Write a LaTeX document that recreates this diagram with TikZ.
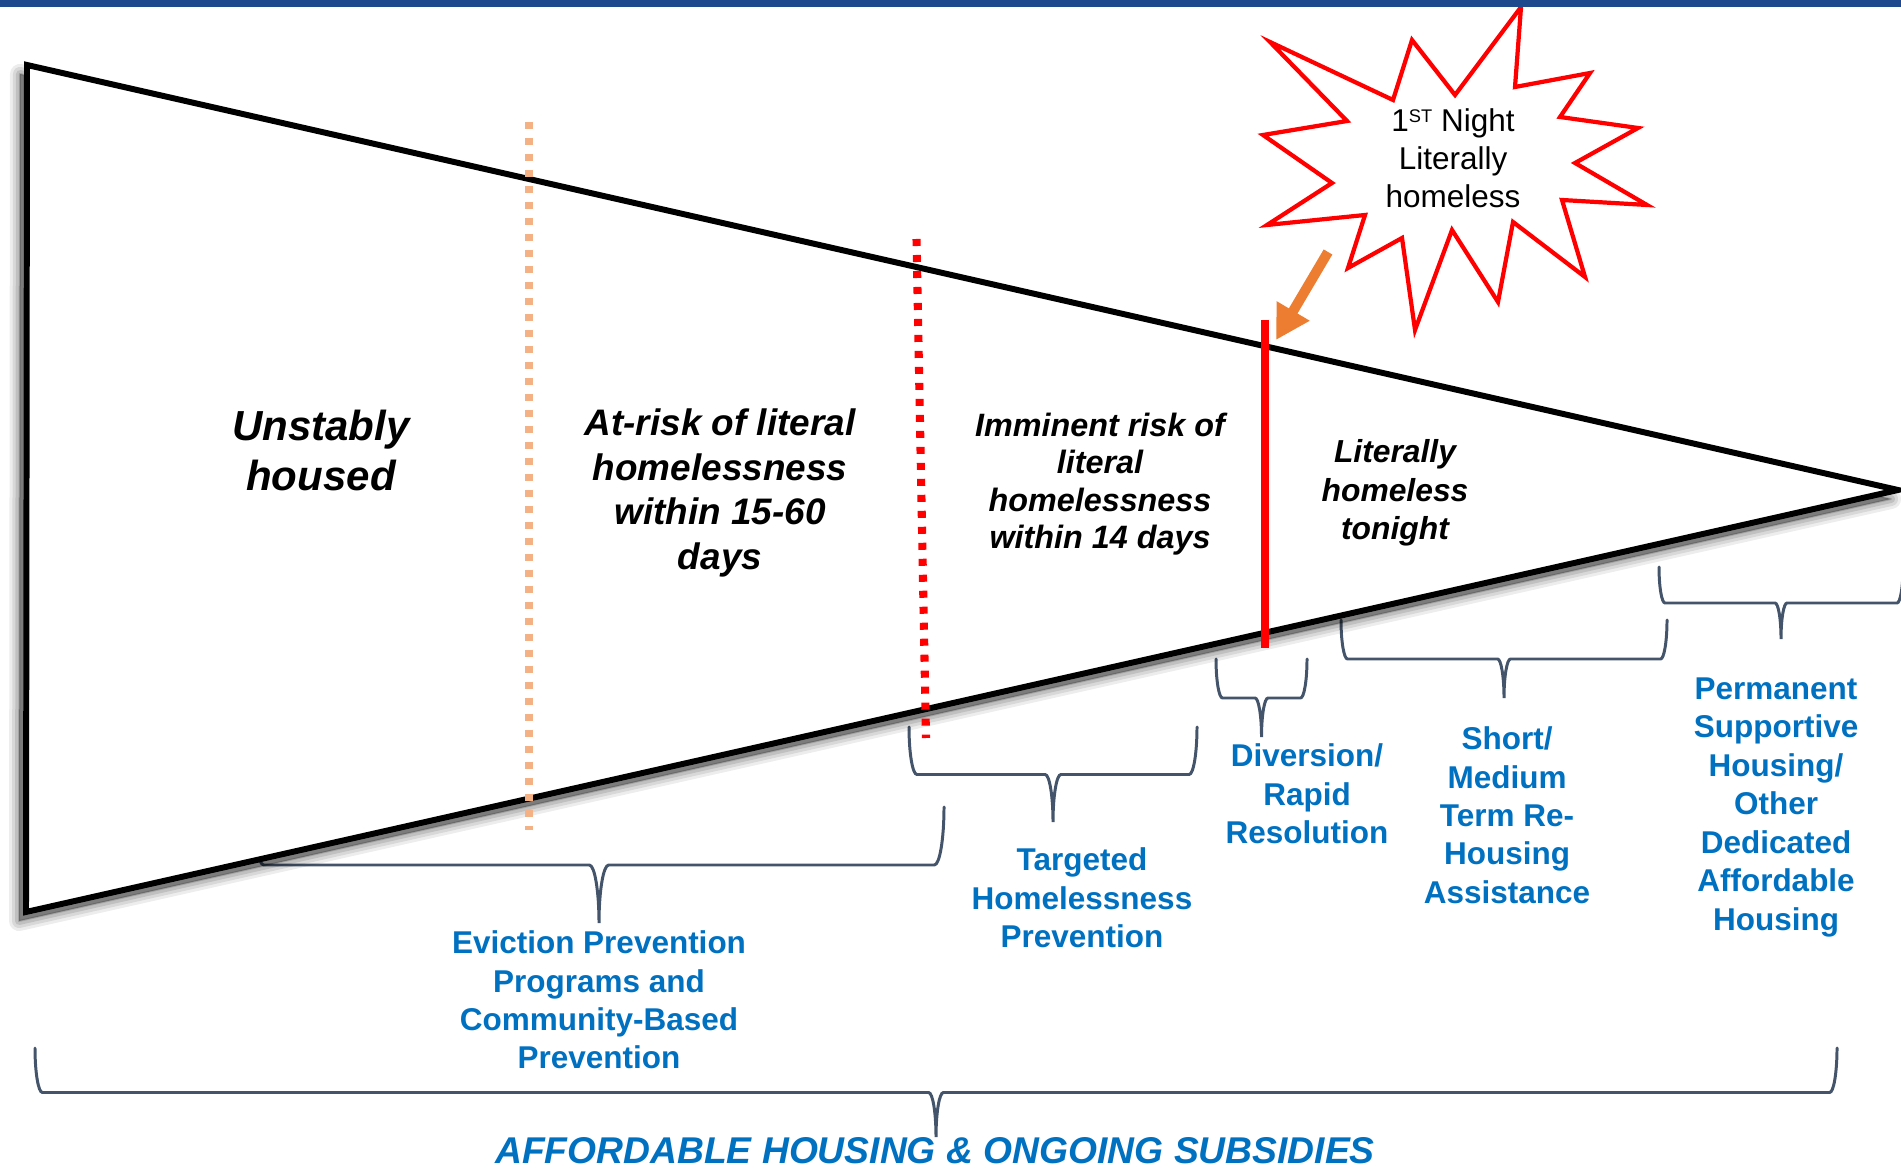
\documentclass[tikz,border=0pt]{standalone}
\usepackage{fontspec}
\setmainfont{Liberation Sans}
\usetikzlibrary{arrows.meta}
\definecolor{barblue}{RGB}{31,73,141}
\definecolor{svcblue}{RGB}{0,112,192}
\definecolor{bracegray}{RGB}{68,84,106}
\definecolor{dotorange}{RGB}{244,177,131}
\definecolor{arroworange}{RGB}{237,125,49}

\newcommand{\curlybrace}[4]{%
  \pgfmathsetmacro{\bmid}{(#1+#2)/2}%
  \pgfmathsetmacro{\bhalf}{#4/2}%
  \pgfmathsetmacro{\bcurl}{0.0833*#4}%
  \draw[brace] (#1,#3) .. controls +(0,0.55*\bhalf) and +(-0.55*\bcurl,0) .. (#1+\bcurl,#3+\bhalf)
    -- (\bmid-\bcurl,#3+\bhalf) .. controls +(0.55*\bcurl,0) and +(0,-0.55*\bhalf) .. (\bmid,#3+#4)
    .. controls +(0,-0.55*\bhalf) and +(-0.55*\bcurl,0) .. (\bmid+\bcurl,#3+\bhalf)
    -- (#2-\bcurl,#3+\bhalf) .. controls +(0.55*\bcurl,0) and +(0,0.55*\bhalf) .. (#2,#3);%
}

\tikzset{
  stage/.style={align=center, anchor=north, inner sep=0pt},
  service/.style={align=center, anchor=north, inner sep=0pt, text=svcblue,
    font=\bfseries\fontsize{8.96}{10.95}\selectfont},
  brace/.style={draw=bracegray, line width=0.85pt, line cap=round},
  burst/.style={draw=red, fill=white, line width=1.2pt},
  pointer/.style={draw=arroworange, line width=2.85pt, -{Triangle[length=9.6pt,width=10.2pt]}},
  cutoff/.style={line width=2.3pt, dash pattern=on 2pt off 2.55pt},
}

\begin{document}
\begin{tikzpicture}[x=0.1mm, y=-0.1mm]
    \useasboundingbox (0,0) rectangle (1901,1169);

    \curlybrace{254}{944}{807}{116}
    \curlybrace{909}{1197}{727}{95}
    \curlybrace{1216}{1307}{659}{78}
    \curlybrace{1341}{1667}{620}{78}
    \curlybrace{1659}{1903}{567}{72}
    \curlybrace{35}{1837}{1048}{89}

    \begin{scope}[shift={(-7,9)}]
        \foreach \w/\o in {20/0.07, 14/0.09, 8/0.11, 2/0.14}
            \filldraw[black, opacity=\o, line width=\w*0.1mm, line join=round] (27,65) -- (1898,490) -- (26,912) -- cycle;
    \end{scope}
    \filldraw[fill=white, draw=black, line width=1.7pt] (27,65) -- (1898,490) -- (26,912) -- cycle;

    \draw[cutoff, dotorange] (529,122) -- (529,830);
    \draw[cutoff, red] (916.5,239) -- (926,738);
    \draw[red, line width=2.2pt] (1265,320) -- (1265,648);

    \draw[burst] (1521,7) -- (1515,87) -- (1590,73) -- (1560,117) -- (1638,128) -- (1575,163)
        -- (1647,205) -- (1562,200) -- (1585,277) -- (1513,222) -- (1498,302) -- (1452,230)
        -- (1415,330) -- (1402,238) -- (1348,268) -- (1365,215) -- (1267,225) -- (1332,183)
        -- (1263,135) -- (1347,121) -- (1270,42) -- (1393,100) -- (1412,40) -- (1455,95) -- cycle;
    \node[stage, font=\fontsize{8.96}{10.8}\selectfont] (night) at (1453,108)
        {1\raisebox{0.29em}{\fontsize{5.2}{6}\selectfont ST} Night\\Literally\\homeless};

    \coordinate (arrowtail) at (1328,252);
    \coordinate (arrowtip) at (1276,340);
    \draw[pointer] (arrowtail) -- (arrowtip);

    \node[stage, font=\bfseries\itshape\fontsize{11.95}{14.2}\selectfont] (unstable) at (321,409) {Unstably\\housed};
    \node[stage, font=\bfseries\itshape\fontsize{10.5}{12.7}\selectfont] (atrisk) at (720,408) {At-risk of literal\\homelessness\\within 15-60\\days};
    \node[stage, font=\bfseries\itshape\fontsize{9.2}{10.7}\selectfont] (imminent) at (1100,412) {Imminent risk of\\literal\\homelessness\\within 14 days};
    \node[stage, font=\bfseries\itshape\fontsize{9.05}{10.9}\selectfont] (tonight) at (1395,439) {Literally\\homeless\\tonight};

    \node[service] (eviction) at (599,930) {Eviction Prevention\\Programs and\\Community-Based\\Prevention};
    \node[service] (targeted) at (1082,847) {Targeted\\Homelessness\\Prevention};
    \node[service] (diversion) at (1307,743) {Diversion/\\Rapid\\Resolution};
    \node[service] (rehousing) at (1507,726) {Short/\\Medium\\Term Re-\\Housing\\Assistance};
    \node[service] (permanent) at (1776,677) {Permanent\\Supportive\\Housing/\\Other\\Dedicated\\Affordable\\Housing};
    \node[text=svcblue, font=\bfseries\itshape\fontsize{10.6}{12}\selectfont, anchor=base, inner sep=0pt] (subsidies) at (935,1163) {AFFORDABLE HOUSING \& ONGOING SUBSIDIES};

    \fill[barblue] (0,0) rectangle (1901,7);
\end{tikzpicture}
\end{document}
